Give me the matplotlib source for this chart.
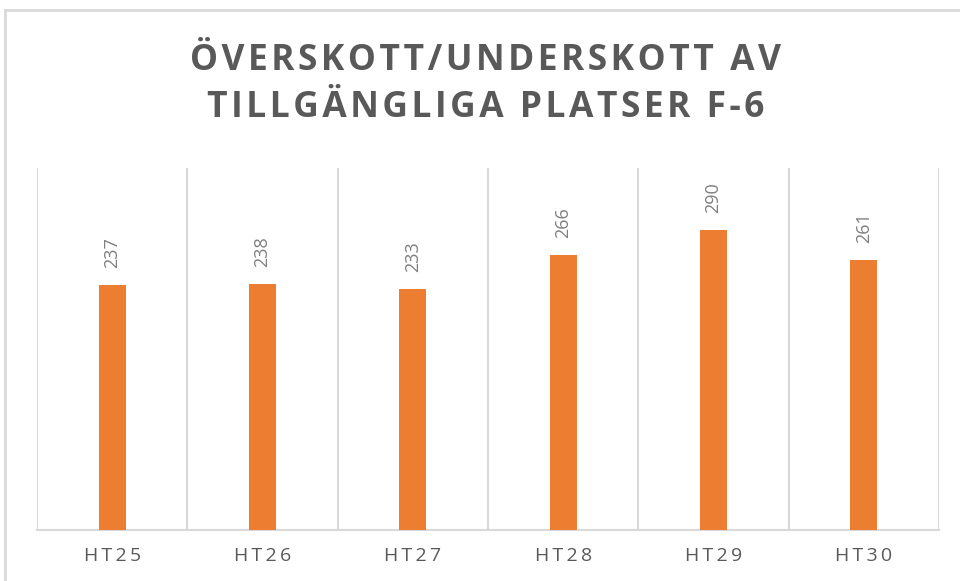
import matplotlib
matplotlib.use("Agg")
import matplotlib.pyplot as plt
from matplotlib.lines import Line2D

categories = ["HT25", "HT26", "HT27", "HT28", "HT29", "HT30"]
values = [237, 238, 233, 266, 290, 261]
title_lines = ["ÖVERSKOTT/UNDERSKOTT AV", "TILLGÄNGLIGA PLATSER F-6"]

BAR = "#ED7D31"
GRID = "#D9D9D9"
TXT = "#595959"
LBL = "#7F7F7F"

plt.rcParams['font.family'] = ['Open Sans', 'DejaVu Sans']

def spaced(s, sp="\u200a"):
    return sp.join(list(s))

fig = plt.figure(figsize=(9.6, 5.81), dpi=100)
W, H = 960, 581
ax = fig.add_axes([37 / W, 1 - 530 / H, (939 - 37) / W, (530 - 168) / H])

x = list(range(len(categories)))
bars = ax.bar(x, values, width=0.18, color=BAR, zorder=3)
ax.set_xlim(-0.5, len(categories) - 0.5)
ax.set_ylim(0, 350)

for xi, v in zip(x, values):
    ax.annotate(str(v), (xi, v), xytext=(0, 12), textcoords="offset points",
                rotation=90, ha="center", va="bottom", fontsize=13, color=LBL)

# vertical category gridlines
for b in [i - 0.5 for i in range(len(categories) + 1)]:
    ax.axvline(b, color=GRID, lw=1.5, zorder=1)

for s in ["top", "right", "left"]:
    ax.spines[s].set_visible(False)
ax.spines["bottom"].set_color(GRID)
ax.spines["bottom"].set_linewidth(1.5)
ax.set_yticks([])
ax.set_xticks(x)
ax.set_xticklabels([spaced(c, "\u2009") for c in categories], fontsize=14, color=TXT)
ax.tick_params(axis="x", length=0, pad=12)

fig.text(486 / W, 1 - 61 / H, spaced(title_lines[0]), ha="center", va="center",
         fontsize=25.5, fontweight="bold", color=TXT)
fig.text(486 / W, 1 - 108 / H, spaced(title_lines[1]), ha="center", va="center",
         fontsize=25.5, fontweight="bold", color=TXT)

# outer frame (top and left)
fig.add_artist(Line2D([5 / W, 1], [1 - 10 / H, 1 - 10 / H], color=GRID, lw=2, transform=fig.transFigure))
fig.add_artist(Line2D([5 / W, 5 / W], [0, 1 - 10 / H], color=GRID, lw=2, transform=fig.transFigure))

fig.savefig("out.png", dpi=100, facecolor="white")
